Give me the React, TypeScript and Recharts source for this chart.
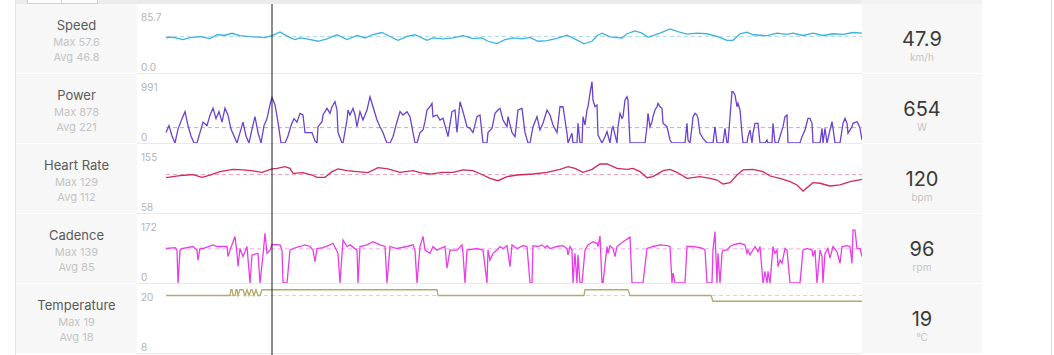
import React from 'react';
import { LineChart, Line, XAxis, YAxis, ReferenceLine } from 'recharts';

// elapsed seconds
const DURATION = 2784;
const CURSOR_T = 424;
const topTicks = [124, 410, 697, 983, 1270, 1556, 1842, 2129, 2415, 2702];

const speedData: [number, number][] = [[0,44.8],[16,45.8],[36,45.2],[68,42.7],[96,45.2],[136,46.4],[176,44.0],[204,48.9],[236,48.3],[264,50.8],[296,47.7],[336,46.4],[368,45.8],[396,45.2],[424,47.9],[456,52.6],[496,45.2],[516,42.7],[536,44.8],[564,43.6],[608,40.6],[644,43.6],[684,48.9],[724,42.7],[764,48.0],[796,44.8],[824,48.9],[864,51.8],[888,48.0],[928,41.8],[964,46.8],[996,48.9],[1044,41.8],[1068,44.8],[1108,43.6],[1148,44.8],[1188,47.7],[1228,43.9],[1264,44.8],[1288,40.6],[1324,37.7],[1356,42.7],[1388,44.8],[1424,43.6],[1456,45.6],[1488,40.6],[1524,41.5],[1564,44.3],[1604,48.3],[1644,42.1],[1672,37.4],[1704,40.6],[1724,47.7],[1744,51.0],[1776,46.1],[1824,44.8],[1844,50.2],[1876,53.9],[1904,51.0],[1928,45.6],[1976,51.0],[2016,56.4],[2048,53.0],[2084,49.8],[2124,51.0],[2164,50.2],[2204,46.8],[2244,41.8],[2268,41.8],[2296,50.2],[2324,52.3],[2348,48.9],[2404,47.7],[2444,51.0],[2484,49.3],[2508,51.0],[2548,48.0],[2588,51.0],[2628,48.0],[2668,50.2],[2708,49.3],[2748,51.8],[2784,51.0]];

const powerData: [number, number][] = [[0,150],[12,250],[24,100],[36,0],[48,200],[64,350],[76,450],[88,250],[100,100],[112,0],[124,0],[136,150],[148,300],[164,250],[176,400],[188,500],[200,350],[212,450],[224,300],[236,500],[248,400],[260,200],[272,100],[284,0],[296,150],[308,300],[320,100],[332,0],[344,200],[356,380],[368,150],[380,0],[392,250],[404,350],[416,550],[424,654],[436,550],[448,300],[460,0],[476,0],[488,100],[500,250],[512,350],[524,300],
[536,426],[548,402],[556,150],[568,150],[584,150],[596,29],[604,0],[608,234],[624,306],[628,402],[644,498],[656,426],[664,521],[676,593],[684,474],[688,150],[704,0],[708,0],[724,330],[728,474],[736,402],[748,498],[756,402],[764,234],[776,450],[788,330],[804,474],[816,665],[828,521],[844,330],[856,234],[868,150],[876,67],[884,0],[896,0],[908,91],[924,306],[936,450],[948,402],[964,450],[976,378],[988,150],[996,0],[1004,0],[1016,150],[1028,187],[1036,306],[1044,474],[1056,521],[1064,570],[1068,378],[1084,402],[1096,330],[1108,355],[1124,150],[1128,91],[1144,450],[1156,474],[1164,150],[1176,593],[1188,450],[1204,234],[1216,211],[1228,150],[1244,378],[1256,402],[1268,0],[1284,0],[1288,150],[1304,211],[1316,426],[1328,474],[1336,498],[1348,330],[1364,234],[1368,378],[1384,150],[1396,91],[1408,474],[1424,498],[1436,150],[1448,0],[1456,0],[1468,234],[1484,378],[1496,187],[1508,283],[1524,474],[1536,402],[1548,258],[1564,150],
[1576,521],[1588,521],[1596,330],[1604,139],[1608,0],[1624,139],[1628,0],[1644,0],[1648,283],[1656,0],[1664,0],[1668,378],[1676,258],[1684,474],[1688,521],[1696,713],[1704,880],[1708,617],[1716,521],[1724,545],[1728,115],[1744,0],[1756,91],[1764,163],[1776,0],[1784,211],[1788,234],[1804,0],[1808,234],[1816,426],[1824,355],[1828,378],[1836,617],[1844,665],[1848,617],[1856,0],[1916,0],[1924,234],[1928,426],[1936,234],[1944,306],[1948,378],[1956,474],[1964,521],[1968,570],[1976,521],[1984,498],[1988,283],[2004,234],[2016,43],[2024,0],[2076,0],[2084,283],[2088,43],[2096,0],[2104,234],[2108,378],[2116,426],[2124,402],[2128,355],[2136,139],[2148,67],[2164,0],[2188,0],[2196,234],[2204,0],[2228,0],[2236,211],[2244,0],[2248,0],[2256,378],[2264,737],[2268,737],[2276,689],[2284,521],[2288,570],[2296,474],[2304,139],[2308,0],[2324,0],[2328,91],[2336,187],[2344,0],[2348,139],[2356,283],[2368,283],[2376,0],[2396,0],[2404,43],[2408,0],[2424,0],[2428,283],[2436,0],[2448,0],[2468,234],[2476,378],[2484,402],[2488,0],[2536,0],[2544,91],[2556,187],[2568,355],[2576,355],[2584,283],[2588,0],[2616,0],[2624,211],[2628,0],[2636,211],[2644,0],[2656,187],[2664,306],[2668,211],[2676,0],[2696,0],[2704,187],[2708,283],[2716,355],[2724,283],[2728,139],[2744,234],[2748,283],[2764,306],[2768,283],[2776,211],[2784,43]];

const heartRateData: [number, number][] = [[0,107.6],[28,109.1],[56,110.5],[84,111.4],[108,111.9],[144,108.2],[176,111.4],[216,116.1],[268,119.4],[308,118.5],[348,117.1],[384,115.2],[424,120],[444,120.8],[476,123.1],[496,120.8],[508,113.8],[548,114.7],[584,111.4],[604,108.2],[636,108.2],[664,116.1],[688,119.9],[724,117.5],[764,116.1],[808,114.7],[848,121.7],[888,119.9],[936,115.2],[988,117.5],[1016,114.7],[1056,112.8],[1104,115.2],[1148,115.2],[1188,118.5],[1228,117.5],[1268,111.4],[1296,106.8],[1328,103.4],[1364,109.1],[1404,111.4],[1468,112.8],[1524,115.2],[1576,119.4],[1608,123.1],[1636,120.8],[1668,115.2],[1704,119.4],[1736,126.9],[1764,126.9],[1804,120.8],[1844,119.4],[1868,120.8],[1896,116.1],[1924,107.6],[1948,109.1],[1988,117.5],[2016,119.4],[2044,115.2],[2084,106.8],[2136,109.1],[2176,106.8],[2204,104.4],[2228,98.8],[2256,100.6],[2284,111.4],[2308,118.5],[2348,119.4],[2388,116.1],[2416,110.0],[2456,106.8],[2496,102.0],[2524,97.4],[2548,88.9],[2588,100.6],[2616,99.8],[2656,96.0],[2696,97.4],[2736,102.0],[2784,105.4]];

const cadenceData: [number, number][] = [[0,86],[36,88],[44,82],[48,0],[56,82],[64,86],[108,91],[124,82],[128,57],[136,86],[148,86],[188,95],[204,91],[244,91],[248,66],[256,82],[276,116],[284,74],[288,41],[296,86],[308,66],[324,91],[336,0],[344,70],[368,74],[376,0],[388,70],[396,124],[404,74],[416,82],[424,96],[456,95],[464,82],[468,0],[484,0],[496,82],[508,86],[536,91],[556,95],[576,91],[588,82],[596,53],[604,86],[628,88],[656,95],[668,99],[688,74],[696,0],[708,107],[724,91],[736,95],[764,82],[768,0],[776,91],[804,95],[828,103],[856,95],[876,91],[884,0],[896,91],[924,86],[964,91],[988,95],[996,82],[1004,0],[1016,91],[1024,107],[1028,116],[1036,82],[1056,74],[1068,91],[1084,82],[1096,86],[1116,91],[1124,37],[1136,82],[1164,82],[1184,95],[1188,74],[1196,0],[1204,82],[1244,86],[1268,82],[1284,0],[1288,82],[1296,57],[1308,74],[1324,82],
[1336,91],[1348,86],[1364,93],[1376,41],[1384,95],[1404,86],[1428,93],[1444,91],[1456,0],[1464,0],[1468,93],[1488,91],[1504,95],[1516,88],[1524,93],[1536,86],[1564,91],[1588,93],[1604,86],[1608,70],[1616,91],[1624,82],[1628,0],[1636,74],[1644,0],[1648,70],[1656,0],[1664,0],[1676,82],[1688,95],[1708,103],[1724,99],[1728,91],[1736,117],[1744,0],[1748,0],[1764,91],[1768,74],[1776,93],[1788,86],[1796,66],[1804,91],[1828,103],[1856,114],[1864,0],[1908,0],[1924,86],[1948,91],[1976,95],[2004,93],[2016,91],[2024,0],[2028,25],[2036,0],[2076,0],[2084,91],[2108,91],[2136,88],[2148,86],[2156,82],[2164,0],[2184,0],[2188,82],[2196,128],[2204,0],[2208,74],[2216,0],[2224,74],[2228,82],[2244,82],[2256,91],[2268,95],[2296,99],[2316,95],[2324,74],[2328,82],[2336,70],[2356,91],[2368,78],[2376,91],[2388,0],[2396,29],[2404,0],[2408,29],[2416,0],[2428,91],[2436,74],[2444,82],[2448,41],[2456,57],[2464,49],[2476,86],[2484,82],[2496,0],[2536,0],[2548,82],[2564,86],[2584,82],[2588,66],[2596,82],[2604,0],[2616,82],[2624,66],[2628,0],[2636,74],[2644,82],[2648,86],[2656,62],[2668,91],[2684,78],[2696,49],[2704,91],[2724,93],[2736,91],[2744,49],[2748,132],[2756,132],[2764,86],[2776,86],[2784,66]];

const temperatureData: [number, number][] = [[0,18],[256,18],[260,19],[264,19],[268,18],[276,18],[280,19],[284,19],[288,18],[296,19],[308,19],[316,18],[324,19],[332,18],[340,19],[344,19],[352,18],[360,19],[368,18],[376,18],[384,19],[1084,19],[1088,18],[1672,18],[1676,19],[1848,19],[1856,18],[2180,18],[2188,17],[2784,17]];

const rowNames = ['Speed', 'Power', 'Heart Rate', 'Cadence', 'Temperature'];
const rowMax = ['57.6', '878', '129', '139', '19'];
const rowAvg = [46.8, 221, 112, 85, 18];
const rowAvgLabel = ['46.8', '221', '112', '85', '18'];
const rowDomainMin = [0, 0, 58, 0, 8];
const rowDomainMax = [85.7, 991, 155, 172, 20];
const rowTopLabel = ['85.7', '991', '155', '172', '20'];
const rowBottomLabel = ['0.0', '0', '58', '0', '8'];
const rowCurrent = ['47.9', '654', '120', '96', '19'];
const rowUnit = ['km/h', 'W', 'bpm', 'rpm', '°C'];
const rowSeries = [speedData, powerData, heartRateData, cadenceData, temperatureData];
const rowPlotTop = [2, 0, 0, 0, 0];

const lineColors = ['#3fb2dc', '#6a42cf', '#cf2a5c', '#e83ee6', '#b6a96c'];
const avgColors = ['#a9dcee', '#b9a7ea', '#ee9fb7', '#f3a3f1', '#ddd7b5'];

const FONT = 'Inter, "Noto Sans", "DejaVu Sans", sans-serif';

const cursorFrame = [{ t: 0, y: 0 }, { t: DURATION, y: 1 }];

export default function App() {
  const abs = (s: React.CSSProperties): React.CSSProperties => ({ position: 'absolute', ...s });
  return (
    <div style={{ position: 'relative', width: 1054, height: 355, background: '#fff', overflow: 'hidden', fontFamily: FONT }}>
      <style>{'body{margin:0}'}</style>
      {/* top strip */}
      <div style={abs({ left: 15, top: 0, width: 847, height: 4, background: '#ebebeb' })} />
      <div style={abs({ left: 862, top: 0, width: 120, height: 4, background: '#f3f3f3' })} />
      <div style={abs({ left: 27, top: -2, width: 33, height: 4, background: '#fff', border: '1px solid #cfcfcf' })} />
      <div style={abs({ left: 61, top: -2, width: 35, height: 4, background: '#fff', border: '1px solid #cfcfcf' })} />
      <div style={abs({ left: 15, top: 0, width: 1, height: 355, background: '#e4e4e4' })} />
      <div style={abs({ left: 1051, top: 0, width: 1, height: 355, background: '#d9d9d9' })} />
      {rowNames.map((name, i) => {
        const top = 4 + 70 * i;
        const data = rowSeries[i].map(([t, v]) => ({ t, v }));
        return (
          <React.Fragment key={name}>
            <div style={abs({ left: 16, top, width: 121, height: 69, background: '#f7f7f7' })}>
              <div style={abs({ left: 0, top: 13, width: 121, textAlign: 'center', fontSize: 13, lineHeight: '16px', color: '#5a5a5a' })}>{name}</div>
              <div style={abs({ left: 0, top: 31, width: 121, textAlign: 'center', fontSize: 11, lineHeight: '14px', color: '#c4c4c4' })}>Max {rowMax[i]}</div>
              <div style={abs({ left: 0, top: 46, width: 121, textAlign: 'center', fontSize: 11, lineHeight: '14px', color: '#c4c4c4' })}>Avg {rowAvgLabel[i]}</div>
            </div>
            <div style={abs({ left: 137, top: top + 69, width: 725, height: 1, background: '#e9e9e9' })} />
            <div style={abs({ left: 141, top: top + 7, fontSize: 10, lineHeight: '12px', color: '#b3b3b3' })}>{rowTopLabel[i]}</div>
            <div style={abs({ left: 141, top: top + 57, fontSize: 10, lineHeight: '12px', color: '#b3b3b3' })}>{rowBottomLabel[i]}</div>
            <div style={abs({ left: 137, top, width: 726, height: 69 })}>
              <LineChart width={726} height={69} data={data} margin={{ top: rowPlotTop[i], right: 1, left: 29, bottom: 0 }}>
                <XAxis dataKey="t" type="number" domain={[0, DURATION]} hide />
                <YAxis type="number" domain={[rowDomainMin[i], rowDomainMax[i]]} hide allowDataOverflow />
                <ReferenceLine y={rowAvg[i]} stroke={avgColors[i]} strokeDasharray="4 3" strokeWidth={1} />
                <Line type="linear" dataKey="v" stroke={lineColors[i]} strokeWidth={1.3} dot={false} activeDot={false} isAnimationActive={false} />
              </LineChart>
            </div>
            <div style={abs({ left: 862, top, width: 120, height: 69, background: '#f7f7f7' })}>
              <div style={abs({ left: 0, top: 23, width: 120, textAlign: 'center', fontSize: 20, lineHeight: '24px', color: '#3a3a3a' })}>{rowCurrent[i]}</div>
              <div style={abs({ left: 0, top: 47, width: 120, textAlign: 'center', fontSize: 10, lineHeight: '12px', color: '#c3c3c3' })}>{rowUnit[i]}</div>
            </div>
          </React.Fragment>
        );
      })}
      <div style={abs({ left: 0, top: 0, width: 1054, height: 355 })}>
        <LineChart width={1054} height={355} data={cursorFrame} margin={{ top: 4, right: 192, left: 166, bottom: 0 }}>
          <XAxis dataKey="t" type="number" domain={[0, DURATION]} orientation="top" ticks={topTicks} tick={false} tickSize={4} tickLine={{ stroke: '#8c8c8c' }} axisLine={false} height={0} />
          <YAxis type="number" hide domain={[0, 1]} />
          <Line dataKey="y" stroke="none" strokeWidth={0} dot={false} activeDot={false} isAnimationActive={false} />
          <ReferenceLine x={CURSOR_T} stroke="#1a1a1a" strokeWidth={1} />
        </LineChart>
      </div>
    </div>
  );
}
